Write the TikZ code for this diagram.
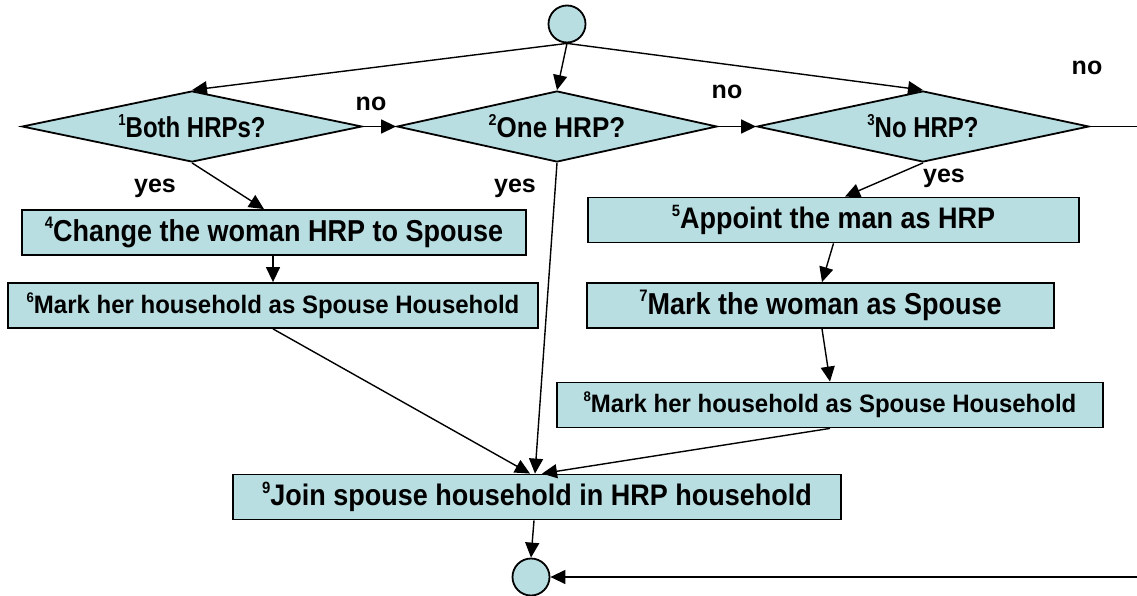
\documentclass[tikz,border=0pt]{standalone}
\usepackage{graphicx}
\usepackage{fontspec}
\setmainfont{Liberation Sans}
\usetikzlibrary{shapes.geometric,arrows.meta}
\definecolor{boxfill}{RGB}{184,222,226}
\newcommand{\fs}[1]{\fontsize{#1}{#1}\selectfont\bfseries}
% small raised step number
\newcommand{\nsup}[1]{\raisebox{0.42em}{\scalebox{0.55}{#1}}}
% text set slightly taller than wide
\newcommand{\tall}[2]{\scalebox{1}[#1]{#2}}
\begin{document}
\begin{tikzpicture}[x=1pt,y=-1pt,
  flow/.style={line width=1.4pt,-{Triangle[length=15pt,width=14pt]}},
  plain/.style={line width=1.4pt},
  stepbox/.style={draw=black,line width=1.8pt,fill=boxfill,inner sep=0pt,minimum height=45pt},
  decision/.style={diamond,draw=black,line width=1.8pt,fill=boxfill,inner sep=0pt,aspect=4.8,minimum height=71pt},
  terminal/.style={circle,draw=black,line width=1.8pt,fill=boxfill,minimum size=37pt,inner sep=0pt},
  lbl/.style={font=\fs{25}}
]
\useasboundingbox (0,0) rectangle (1137,596);

% start and end terminals
\node[terminal] (start) at (567,24) {};
\node[terminal] (stop) at (531,577) {};

% decisions
\node[decision,minimum width=340pt,font=\fs{24}] (d1) at (192,126.5) {\tall{1.2}{\nsup{1}Both HRPs?}};
\node[decision,minimum width=320pt,font=\fs{26}] (d2) at (557,126.5) {\tall{1.1}{\nsup{2}One HRP?}};
\node[decision,minimum width=332pt,font=\fs{24}] (d3) at (923,126.5) {\tall{1.2}{\nsup{3}No HRP?}};

% process steps
\node[stepbox,minimum width=504pt,font=\fs{27}] (b4) at (274,232.5) {\tall{1.12}{\nsup{4}Change the woman HRP to Spouse}};
\node[stepbox,minimum width=530pt,font=\fs{24}] (b6) at (273,305.5) {\tall{1.05}{\nsup{6}Mark her household as Spouse Household}};
\node[stepbox,minimum width=491pt,font=\fs{27}] (b5) at (833.5,220) {\tall{1.1}{\nsup{5}Appoint the man as HRP}};
\node[stepbox,minimum width=467pt,font=\fs{27}] (b7) at (820.5,305.5) {\tall{1.12}{\nsup{7}Mark the woman as Spouse}};
\node[stepbox,minimum width=546pt,font=\fs{24}] (b8) at (830,405) {\tall{1.05}{\nsup{8}Mark her household as Spouse Household}};
\node[stepbox,minimum width=608pt,font=\fs{27}] (b9) at (537,497) {\tall{1.1}{\nsup{9}Join spouse household in HRP household}};

% branch labels
\node[lbl] (y1) at (155,188) {yes};
\node[lbl] (y2) at (515,188) {yes};
\node[lbl] (y3) at (944,178) {yes};
\node[lbl] (n1) at (371,104) {no};
\node[lbl] (n2) at (727,92) {no};
\node[lbl] (n3) at (1087,68) {no};

% free ends at the right edge
\coordinate (exitR) at (1137,126.5);
\coordinate (loopR) at (1137,577);

% connectors
\draw[flow] (start.south) -- (d1.north);
\draw[flow] (start.south) -- (d2.north);
\draw[flow] (start.south) -- (d3.north);
\draw[flow] (d1.east) -- (d2.west);
\draw[flow] (d2.east) -- (d3.west);
\draw[plain] (d3.east) -- (exitR);
\draw[flow] (d1.south) -- ([xshift=-10pt]b4.north);
\draw[flow] ([xshift=-1pt]b4.south) -- ([xshift=-1pt]b4.south |- b6.north);
\draw[flow] (d3.south) -- ([xshift=11.5pt]b5.north);
\draw[flow] (b5.south) -- ([xshift=1.5pt]b7.north);
\draw[flow] ([xshift=1.5pt]b7.south) -- (b8.north);
\draw[flow] (b6.south) -- ([xshift=-7pt]b9.north);
\draw[flow] (d2.south) -- ([xshift=-2pt]b9.north);
\draw[flow] (b8.south) -- ([xshift=5pt]b9.north);
\draw[flow] ([xshift=-3pt]b9.south) -- (stop.north);
\draw[flow] (loopR) -- (stop.east);
\end{tikzpicture}
\end{document}
